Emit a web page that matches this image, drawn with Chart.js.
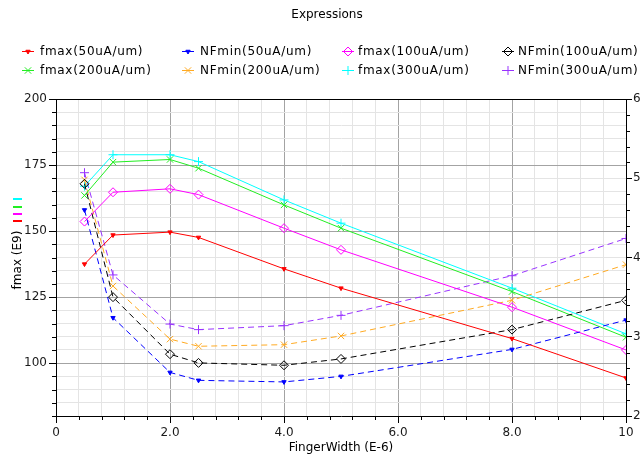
<!DOCTYPE html>
<html lang="en">
<head>
    <meta charset="UTF-8">
    <title>Expressions</title>
    <script src="https://cdn.jsdelivr.net/npm/chart.js"></script>
    <style>
        html, body {
            margin: 0;
            padding: 0;
            background: #fff;
        }
        #plot {
            display: block;
        }
    </style>
</head>
<body>
    <canvas id="plot" width="643" height="459"></canvas>
    <script>
        // finger width sweep (E-6)
        const fingerWidth = [0.5, 1, 2, 2.5, 4, 5, 8, 10];

        // fmax (E9), left axis
        const fmax50 = [137.5, 148.5, 149.6, 147.6, 135.7, 128.4, 109.3, 94.4];
        const fmax100 = [153.6, 164.7, 166.0, 163.8, 151.1, 142.9, 121.2, 105.0];
        const fmax200 = [163.5, 176.1, 177.1, 173.8, 159.9, 151.1, 127.1, 109.8];
        const fmax300 = [167.0, 178.9, 178.9, 176.3, 161.8, 153.0, 128.4, 111.1];

        // NFmin, right axis
        const nfmin50 = [4.60, 3.24, 2.55, 2.45, 2.43, 2.50, 2.84, 3.21];
        const nfmin100 = [4.93, 3.50, 2.78, 2.67, 2.64, 2.72, 3.09, 3.46];
        const nfmin200 = [4.98, 3.64, 2.97, 2.88, 2.90, 3.01, 3.46, 3.91];
        const nfmin300 = [5.07, 3.78, 3.16, 3.09, 3.14, 3.27, 3.77, 4.24];

        const xTickLabels = ['0', '2.0', '4.0', '6.0', '8.0', '10'];
        const leftTickLabels = ['100', '125', '150', '175', '200'];
        const rightTickLabels = ['2', '3', '4', '5', '6'];

        const FONT = 'DejaVu Sans';
        const MAJOR_GRID = '#a3a3a3';
        const MINOR_GRID = '#e4e4e4';

        function pts(ys) {
            return ys.map((y, i) => ({ x: fingerWidth[i], y: y }));
        }

        function series(label, ys, color, axis, style) {
            const dashed = axis === 'yR';
            return {
                label: label,
                data: pts(ys),
                yAxisID: axis,
                borderColor: color,
                backgroundColor: style.fill ? color : 'rgba(0,0,0,0)',
                pointBorderColor: color,
                pointBackgroundColor: style.fill ? color : 'rgba(0,0,0,0)',
                borderWidth: 1,
                borderDash: dashed ? [6, 4] : [],
                pointStyle: style.shape,
                pointRotation: style.rotation || 0,
                pointRadius: style.radius,
                pointBorderWidth: 1,
                tension: 0,
                fill: false
            };
        }

        const dot = { shape: 'triangle', rotation: 180, radius: 2.5, fill: true };
        const diamond = { shape: 'rectRot', radius: 4.5, fill: false };
        const xmark = { shape: 'crossRot', radius: 4.5, fill: false };
        const plus = { shape: 'cross', radius: 4.5, fill: false };

        const datasets = [
            series('fmax(50uA/um)', fmax50, '#ff0000', 'yL', dot),
            series('NFmin(50uA/um)', nfmin50, '#0000ff', 'yR', dot),
            series('fmax(100uA/um)', fmax100, '#ff00ff', 'yL', diamond),
            series('NFmin(100uA/um)', nfmin100, '#000000', 'yR', diamond),
            series('fmax(200uA/um)', fmax200, '#22ee22', 'yL', xmark),
            series('NFmin(200uA/um)', nfmin200, '#ffaa22', 'yR', xmark),
            series('fmax(300uA/um)', fmax300, '#00ffff', 'yL', plus),
            series('NFmin(300uA/um)', nfmin300, '#9933ff', 'yR', plus)
        ];

        function isMultiple(v, step) {
            const q = v / step;
            return Math.abs(q - Math.round(q)) < 1e-6;
        }

        // title, legend, left axis title, top frame line and short minor ticks
        const decorations = {
            id: 'decorations',
            afterDraw(chart) {
                const ctx = chart.ctx;
                const area = chart.chartArea;
                ctx.save();
                ctx.fillStyle = '#000';
                ctx.font = '12px "' + FONT + '"';
                ctx.textBaseline = 'middle';

                ctx.textAlign = 'center';
                ctx.fillText('Expressions', 327, 15);

                // legend: 2 rows x 4 columns
                const markX = [22, 182, 342, 502];
                const textX = [40, 200, 358, 518];
                const rowY = [51, 70];
                ctx.textAlign = 'left';
                ctx.letterSpacing = '0.7px';
                chart.data.datasets.forEach((ds, i) => {
                    const col = i % 4;
                    const y = rowY[Math.floor(i / 4)];
                    const x0 = markX[col];
                    ctx.strokeStyle = ds.borderColor;
                    ctx.lineWidth = 1;
                    ctx.setLineDash([]);
                    ctx.beginPath();
                    ctx.moveTo(x0, y + 0.5);
                    ctx.lineTo(x0 + 12, y + 0.5);
                    ctx.stroke();
                    ctx.fillStyle = ds.pointBackgroundColor;
                    Chart.helpers.drawPoint(ctx, {
                        pointStyle: ds.pointStyle,
                        rotation: ds.pointRotation,
                        radius: ds.pointRadius,
                        borderWidth: 1
                    }, x0 + 6, y + 0.5);
                    ctx.fillStyle = '#000';
                    ctx.fillText(ds.label, textX[col], y + 1);
                });
                ctx.letterSpacing = '0px';

                // left axis title with its series swatches
                ctx.save();
                ctx.translate(18, 260);
                ctx.rotate(-Math.PI / 2);
                ctx.textAlign = 'center';
                ctx.fillText('fmax (E9)', 0, 0);
                ctx.restore();
                const swatches = [['#00ffff', 199], ['#22ee22', 207], ['#ff00ff', 214], ['#ff0000', 221]];
                ctx.lineWidth = 2;
                swatches.forEach(s => {
                    ctx.strokeStyle = s[0];
                    ctx.beginPath();
                    ctx.moveTo(13, s[1]);
                    ctx.lineTo(22, s[1]);
                    ctx.stroke();
                });

                // top frame line
                ctx.strokeStyle = '#000';
                ctx.lineWidth = 1;
                ctx.beginPath();
                ctx.moveTo(area.left, Math.floor(area.top) + 0.5);
                ctx.lineTo(area.right, Math.floor(area.top) + 0.5);
                ctx.stroke();

                // short minor ticks
                const sx = chart.scales.x, sl = chart.scales.yL, sr = chart.scales.yR;
                ctx.beginPath();
                sx.ticks.forEach(t => {
                    if (isMultiple(t.value, 2)) return;
                    const px = Math.round(sx.getPixelForValue(t.value)) + 0.5;
                    ctx.moveTo(px, area.bottom);
                    ctx.lineTo(px, area.bottom + 4);
                });
                sl.ticks.forEach(t => {
                    if (isMultiple(t.value, 25)) return;
                    const py = Math.round(sl.getPixelForValue(t.value)) + 0.5;
                    ctx.moveTo(area.left - 4, py);
                    ctx.lineTo(area.left, py);
                });
                sr.ticks.forEach(t => {
                    if (isMultiple(t.value, 1)) return;
                    const py = Math.round(sr.getPixelForValue(t.value)) + 0.5;
                    ctx.moveTo(area.right, py);
                    ctx.lineTo(area.right + 4, py);
                });
                ctx.stroke();
                ctx.restore();
            }
        };

        Chart.defaults.font.family = FONT;
        Chart.defaults.font.size = 12;
        Chart.defaults.color = '#1a1a1a';

        new Chart(document.getElementById('plot'), {
            type: 'line',
            data: { datasets: datasets },
            plugins: [decorations],
            options: {
                responsive: false,
                animation: false,
                layout: { padding: { top: 99, left: 0, right: 0, bottom: 0 } },
                plugins: {
                    legend: { display: false },
                    title: { display: false },
                    tooltip: { enabled: false }
                },
                scales: {
                    x: {
                        type: 'linear',
                        min: 0,
                        max: 10,
                        afterFit: s => { s.height = 43; },
                        border: { color: '#000', width: 1 },
                        grid: {
                            color: c => isMultiple(c.tick.value, 2) ? MAJOR_GRID : MINOR_GRID,
                            tickColor: c => isMultiple(c.tick.value, 2) ? '#000' : 'rgba(0,0,0,0)',
                            tickLength: 7
                        },
                        ticks: {
                            stepSize: 0.4,
                            autoSkip: false,
                            maxRotation: 0,
                            padding: 3,
                            callback: v => isMultiple(v, 2) ? xTickLabels[Math.round(v / 2)] : ''
                        },
                        title: {
                            display: true,
                            text: 'FingerWidth (E-6)',
                            color: '#000',
                            padding: { top: 0, bottom: 4 }
                        }
                    },
                    yL: {
                        type: 'linear',
                        position: 'left',
                        min: 80,
                        max: 200,
                        afterFit: s => { s.width = 56; },
                        border: { color: '#000', width: 1 },
                        grid: {
                            color: c => isMultiple(c.tick.value, 25) ? MAJOR_GRID : MINOR_GRID,
                            tickColor: c => isMultiple(c.tick.value, 25) ? '#000' : 'rgba(0,0,0,0)',
                            tickLength: 7
                        },
                        ticks: {
                            stepSize: 5,
                            autoSkip: false,
                            padding: 2,
                            callback: v => isMultiple(v, 25) ? leftTickLabels[Math.round((v - 100) / 25)] : ''
                        }
                    },
                    yR: {
                        type: 'linear',
                        position: 'right',
                        min: 2,
                        max: 6,
                        afterFit: s => { s.width = 17; },
                        border: { color: '#000', width: 1 },
                        grid: {
                            drawOnChartArea: false,
                            tickColor: c => isMultiple(c.tick.value, 1) ? '#000' : 'rgba(0,0,0,0)',
                            tickLength: 6
                        },
                        ticks: {
                            stepSize: 0.2,
                            autoSkip: false,
                            padding: 1,
                            callback: v => isMultiple(v, 1) ? rightTickLabels[Math.round(v - 2)] : ''
                        }
                    }
                }
            }
        });
    </script>
</body>
</html>
